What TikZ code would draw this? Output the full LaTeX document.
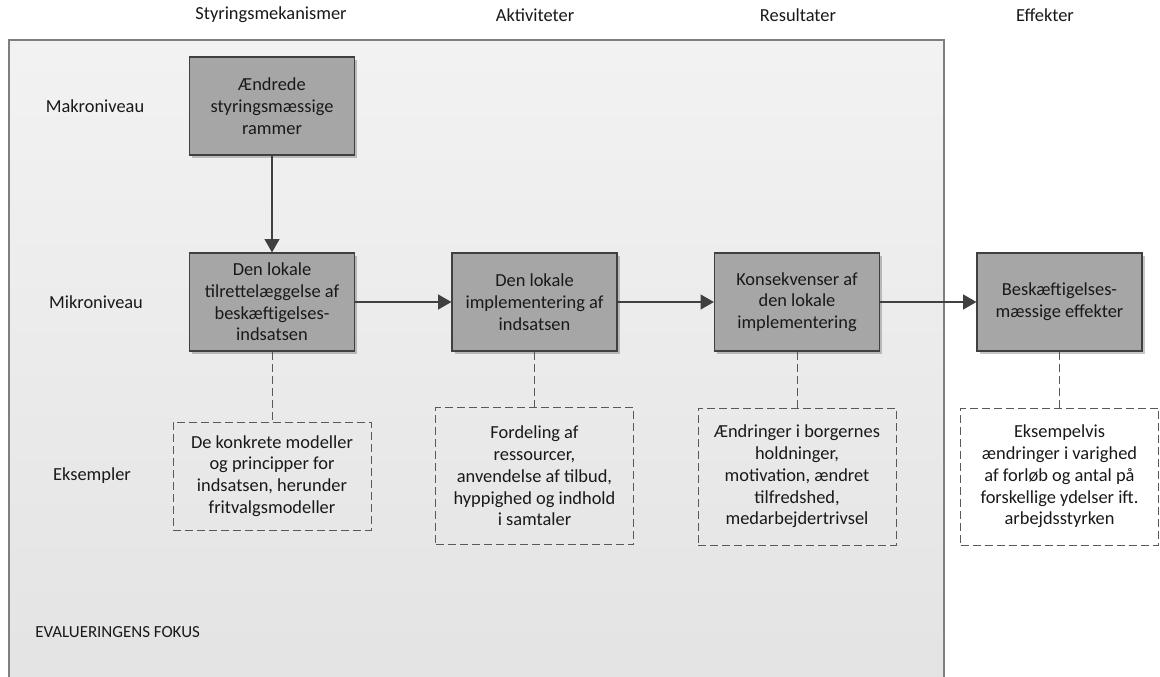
\documentclass[tikz,border=0pt]{standalone}
\usepackage{fontspec}
\setmainfont{Carlito}
\usetikzlibrary{arrows.meta,shadows}
\definecolor{boxfill}{HTML}{A6A6A6}
\definecolor{boxline}{HTML}{404040}
\definecolor{arrowcol}{HTML}{404040}
\definecolor{dashcol}{HTML}{595959}
\definecolor{frame}{HTML}{7F7F7F}
\begin{document}
\begin{tikzpicture}[x=0.75pt,y=-0.75pt,
  every node/.style={font=\fontsize{13.8}{16.3}\selectfont, text=black!90},
  mainbox/.style={draw=boxline, fill=boxfill, line width=0.8pt,
    minimum width=123.75pt, minimum height=73.5pt, align=center, inner sep=0pt,
    drop shadow={shadow xshift=2.2pt, shadow yshift=-2.2pt, fill=black, opacity=0.22}},
  examplebox/.style={draw=dashcol, dash pattern=on 6pt off 3pt, line width=0.6pt,
    minimum width=148.5pt, align=center, inner sep=0pt},
  flow/.style={draw=arrowcol, line width=1.5pt, -{Triangle[length=10pt,width=11pt]}},
  link/.style={draw=dashcol, line width=0.6pt, dash pattern=on 6pt off 3pt},
  plain/.style={align=center, inner sep=0pt}
]
\useasboundingbox (0,0) rectangle (1160,677);
\fill[white] (0,0) rectangle (1160,677);

% evaluation focus area
\begin{scope}
\clip (0,0) rectangle (1160,677);
\shade[top color=black!5, bottom color=black!11] (9,40) rectangle (944,700);
\draw[frame, line width=1.1pt] (9,700) -- (9,40) -- (944,40) -- (944,700);
\end{scope}

% column headings
\node[plain] (h1) at (271,15) {Styringsmekanismer};
\node[plain] (h2) at (535,15) {Aktiviteter};
\node[plain] (h3) at (798,15) {Resultater};
\node[plain] (h4) at (1045,15) {Effekter};

% row headings
\node[plain] (r1) at (95,106) {Makroniveau};
\node[plain] (r2) at (96,302) {Mikroniveau};
\node[plain] (r3) at (92,476) {Eksempler};
\node[plain, anchor=west] (focus) at (35,632) {\fontsize{12.7}{15}\selectfont EVALUERINGENS FOKUS};

% main boxes
\node[mainbox] (macro) at (272,106) {Ændrede\\styringsmæssige\\rammer};
\node[mainbox] (plan) at (272,302) {Den lokale\\tilrettelæggelse af\\beskæftigelses-\\indsatsen};
\node[mainbox] (impl) at (534.5,302) {Den lokale\\implementering af\\indsatsen};
\node[mainbox] (cons) at (797,302) {Konsekvenser af\\den lokale\\implementering};
\node[mainbox] (eff) at (1059.5,302) {Beskæftigelses-\\mæssige effekter};

% example boxes
\node[examplebox, minimum height=81pt] (ex1) at (272,476) {De konkrete modeller\\og principper for\\indsatsen, herunder\\fritvalgsmodeller};
\node[examplebox, minimum height=102.75pt] (ex2) at (534.5,476) {Fordeling af\\ressourcer,\\anvendelse af tilbud,\\hyppighed og indhold\\i samtaler};
\node[examplebox, minimum height=102.75pt] (ex3) at (797,476.5) {Ændringer i borgernes\\holdninger,\\motivation, ændret\\tilfredshed,\\medarbejdertrivsel};
\node[examplebox, minimum height=102.75pt] (ex4) at (1059.5,476.5) {Eksempelvis\\ændringer i varighed\\af forløb og antal på\\forskellige ydelser ift.\\arbejdsstyrken};

% flow arrows
\draw[flow] (macro) -- (plan);
\draw[flow] (plan) -- (impl);
\draw[flow] (impl) -- (cons);
\draw[flow] (cons) -- (eff);

% links to examples
\draw[link] (plan.south) -- (ex1.north);
\draw[link] (impl.south) -- (ex2.north);
\draw[link] (cons.south) -- (ex3.north);
\draw[link] (eff.south) -- (ex4.north);
\end{tikzpicture}
\end{document}
